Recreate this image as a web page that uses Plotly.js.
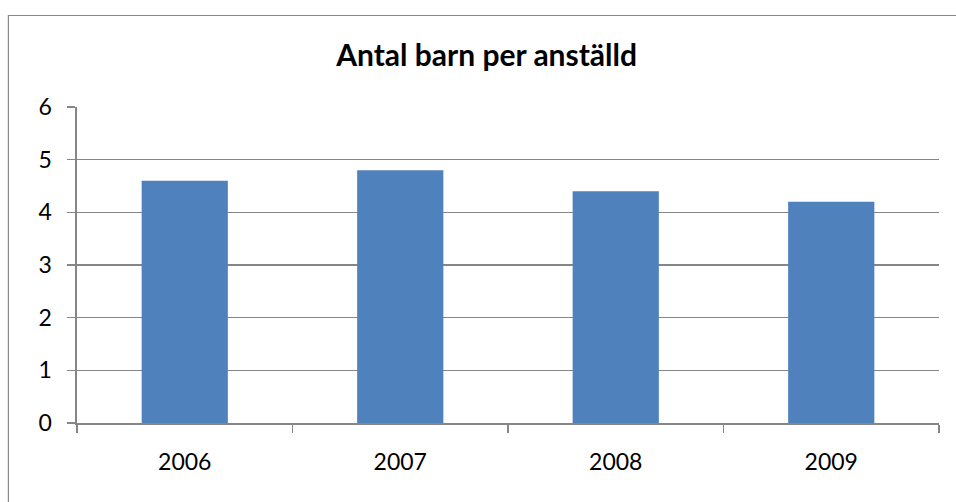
<!DOCTYPE html>
<html>
<head>
<meta charset="utf-8">
<script src="https://cdn.plot.ly/plotly-3.0.1.min.js"></script>
<style>html,body{margin:0;padding:0;background:#fff}#chart{width:956px;height:502px}</style>
</head>
<body>
<div id="chart"></div>
<script>
const years = ['2006', '2007', '2008', '2009'];
const childrenPerEmployee = [4.6, 4.8, 4.4, 4.2];
const yTicks = [0, 1, 2, 3, 4, 5, 6];
const chartTitle = 'Antal barn per anställd';

const trace = {
  type: 'bar',
  x: years,
  y: childrenPerEmployee,
  marker: {color: '#4F81BD', line: {width: 0}},
  hoverinfo: 'x+y'
};

const layout = {
  width: 956,
  height: 502,
  margin: {l: 77, r: 17, t: 107, b: 79, pad: 0},
  paper_bgcolor: '#ffffff',
  plot_bgcolor: '#ffffff',
  font: {family: 'Lato, "Open Sans", sans-serif', color: '#000000', size: 23},
  title: {
    text: '<b>' + chartTitle + '</b>',
    font: {family: 'Lato, sans-serif', size: 30, color: '#000000'},
    x: 0.509, xanchor: 'center', xref: 'container',
    y: 0.89, yanchor: 'middle', yref: 'container'
  },
  bargap: 0.6,
  showlegend: false,
  xaxis: {
    type: 'category',
    tickson: 'boundaries',
    ticks: 'outside',
    ticklen: 8,
    tickcolor: '#868686',
    tickwidth: 1.6,
    showline: true,
    linecolor: '#868686',
    linewidth: 1.6,
    showgrid: false,
    tickfont: {size: 23},
    ticklabelstandoff: 18
  },
  yaxis: {
    range: [0, 6],
    tickvals: yTicks,
    ticks: 'outside',
    ticklen: 8,
    tickcolor: '#868686',
    tickwidth: 1.6,
    showline: true,
    linecolor: '#868686',
    linewidth: 1.6,
    showgrid: true,
    gridcolor: '#868686',
    gridwidth: 1.6,
    zeroline: false,
    tickfont: {size: 23},
    ticklabelstandoff: 11
  },
  shapes: [{
    type: 'rect', xref: 'paper', yref: 'paper',
    x0: -0.0796, x1: 1.2, y0: -0.6, y1: 1.2896,
    line: {color: '#888888', width: 1.2}, fillcolor: 'rgba(0,0,0,0)', layer: 'below'
  }]
};

Plotly.newPlot('chart', [trace], layout, {displayModeBar: false, staticPlot: true});
</script>
</body>
</html>
